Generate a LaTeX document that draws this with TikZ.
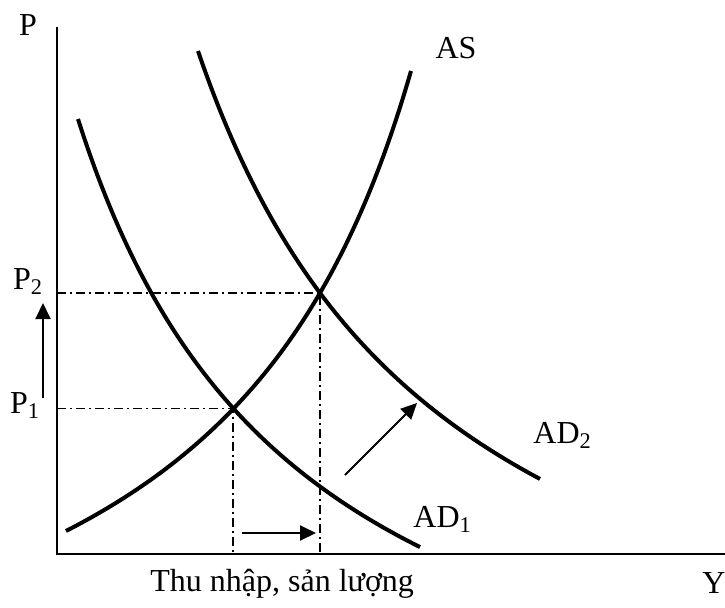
\documentclass[tikz,border=0pt]{standalone}
\usepackage{fontspec}
\setmainfont{Liberation Serif}
\usepackage{tikz}
\usetikzlibrary{arrows.meta, positioning, calc}

\begin{document}
\begin{tikzpicture}[x=0.5pt, y=-0.5pt,
    curve/.style={line width=2pt, samples=90, line join=round},
    axis/.style={line width=1.2pt},
    guide/.style={line width=0.8pt, dash pattern=on 4.5pt off 2pt on 1pt off 2pt},
    shift arrow/.style={line width=1pt, -{Triangle[length=8pt, width=7.5pt]}},
    lbl/.style={font=\fontsize{16}{19}\selectfont, inner sep=0pt}]
  \useasboundingbox (0,0) rectangle (725,607);

  % Axes
  \coordinate (O) at (57,554);
  \coordinate (Ptop) at (57,27);
  \coordinate (Yend) at (725,554);
  \draw[axis] (Ptop) -- (O) -- (Yend);

  % Equilibrium points
  \coordinate (E1) at (233,408.5);
  \coordinate (E2) at (320,293);

  % Guide lines to the axes
  \draw[guide] (E1 -| O) -- (E1) -- (E1 |- O);
  \draw[guide] (E2 -| O) -- (E2) -- (E2 |- O);

  % Curves: AS, AD1, AD2
  \draw[curve] plot[domain=66:411] (\x, {817.9 - 1607.33/((626.2-\x)/100)});
  \draw[curve] plot[domain=78:420] (\x, {830.9 - 1614.51/((\x+148.8)/100)});
  \draw[curve] plot[domain=198:540] (\x, {796.8 - 1894.43/((\x+56)/100)});

  % Shift arrows
  \coordinate (upA) at (43,398);
  \coordinate (upB) at (43,303);
  \coordinate (rtA) at (242,533);
  \coordinate (rtB) at (316,533);
  \coordinate (dgA) at (345,475);
  \coordinate (dgB) at (417,403);
  \draw[shift arrow] (upA) -- (upB);
  \draw[shift arrow] (rtA) -- (rtB);
  \draw[shift arrow] (dgA) -- (dgB);

  % Labels
  \node[lbl, anchor=base] (labP) at (28,35) {P};
  \node[lbl, anchor=base] (labY) at (714,593) {Y};
  \node[lbl, anchor=base] (labP2) at (28,289) {P\textsubscript{2}};
  \node[lbl, anchor=base] (labP1) at (25,413) {P\textsubscript{1}};
  \node[lbl, anchor=base] (labAS) at (456,58) {AS};
  \node[lbl, anchor=base west] (labAD2) at (533,443) {AD\textsubscript{2}};
  \node[lbl, anchor=base west] (labAD1) at (413,527) {AD\textsubscript{1}};
  \node[lbl, anchor=base west] (labX) at (150,591) {Thu nhập, sản lượng};
\end{tikzpicture}
\end{document}
